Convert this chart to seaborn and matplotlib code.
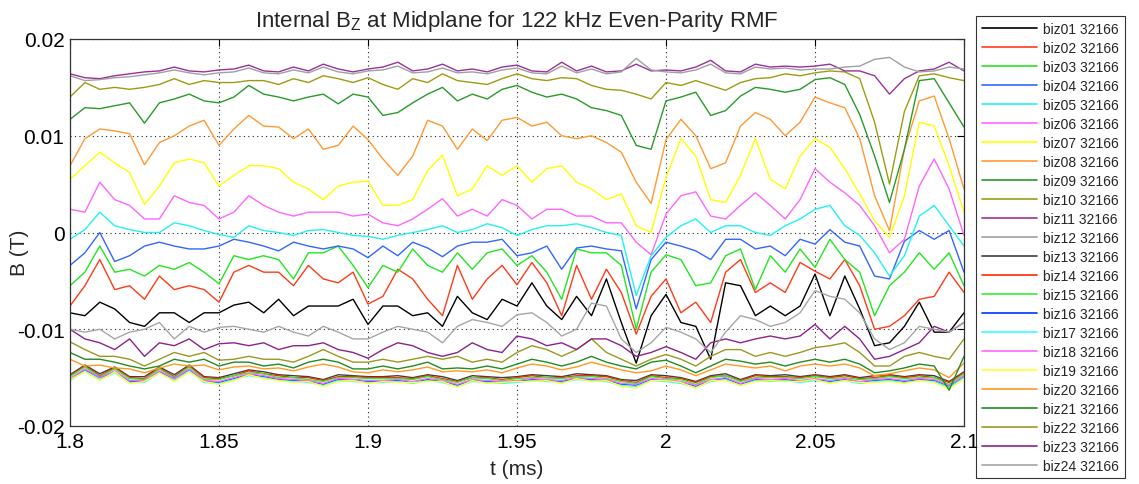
import numpy as np
import pandas as pd
import matplotlib
matplotlib.use("Agg")
import matplotlib.pyplot as plt
from matplotlib.lines import Line2D
import seaborn as sns

# Sample times (ms), one sample every 5 us
t_ms = np.linspace(1.8, 2.1, 61)

# Internal Bz probe signals, shot 32166, in mT
biz01 = [-8.3,-8.6,-7.2,-7.9,-9.3,-9.7,-8.3,-8.3,-9.3,-8.3,-8.3,
         -7.5,-7.2,-8.3,-6.9,-8.6,-7.6,-7.6,-7.6,-6.9,-9.5,
         -7.6,-7.6,-8.6,-8.3,-9.7,-6.6,-8.3,-9.0,-6.9,-7.6,
         -5.2,-7.6,-9.0,-6.6,-8.6,-4.8,-9.3,-13.5,-8.6,-6.4,
         -9.3,-9.7,-13.1,-5.2,-5.5,-8.6,-7.6,-8.6,-7.6,-4.3,
         -8.6,-4.5,-7.9,-11.7,-11.4,-9.7,-7.2,-10.3,-10.3,-8.3]
biz02 = [-7.6,-5.5,-2.8,-5.9,-5.5,-6.9,-4.5,-5.9,-5.5,-5.9,-7.2,
         -4.1,-3.4,-4.1,-4.1,-5.5,-3.4,-4.8,-5.2,-4.1,-7.4,
         -6.6,-3.8,-4.8,-6.9,-8.6,-3.4,-6.9,-4.8,-3.4,-5.4,
         -3.1,-5.2,-8.6,-3.4,-6.9,-3.8,-6.2,-10.5,-6.6,-4.8,
         -8.3,-7.2,-9.3,-4.1,-2.8,-6.2,-5.2,-6.2,-3.1,-4.0,
         -4.8,-2.8,-5.5,-10.0,-9.7,-8.6,-6.9,-6.6,-4.1,-6.2]
biz03 = [-5.5,-4.1,-1.4,-4.1,-3.8,-4.5,-3.4,-3.8,-3.1,-4.1,-5.3,
         -2.4,-2.8,-2.4,-2.8,-4.8,-2.1,-2.1,-1.4,-3.4,-5.7,
         -3.4,-4.1,-1.7,-3.4,-4.1,-2.1,-3.8,-2.1,-1.7,-3.4,
         -2.4,-4.1,-6.9,-1.7,-2.1,-2.1,-3.4,-10.0,-4.1,-2.3,
         -2.8,-5.5,-5.2,-2.4,-1.7,-5.9,-2.4,-4.1,-1.7,-3.6,
         -0.7,-2.8,-4.1,-8.6,-5.5,-4.1,-2.1,-3.8,-2.1,-5.5]
biz04 = [-3.4,-2.1,0.0,-3.0,-2.4,-1.4,-1.0,-1.4,-1.7,-1.7,-1.4,
         -0.7,-1.0,-1.4,-1.9,-1.0,-1.4,-1.7,-1.4,-1.7,-2.6,
         -1.4,-2.4,-1.0,-1.6,-2.5,-1.4,-1.0,-1.0,-0.7,-2.4,
         -2.1,-1.4,-3.8,-1.6,-1.4,-1.7,-1.9,-7.9,-2.8,-1.0,
         -1.4,-1.9,-2.8,-0.7,-0.7,-1.7,-1.4,-2.4,-0.7,-1.2,
         0.3,-1.0,-1.4,-4.5,-4.8,-0.9,0.2,-0.7,0.2,-4.1]
biz05 = [-0.7,0.3,2.1,0.7,0.3,0.0,0.0,1.0,0.7,0.2,-0.2,
         -0.5,0.7,0.2,0.0,-0.3,0.2,0.3,0.0,-0.3,-0.4,
         -0.7,-0.3,0.0,0.3,0.7,0.0,0.3,0.9,0.5,-0.3,
         0.3,0.7,0.7,0.9,0.5,0.0,-0.3,-6.5,-2.4,-0.5,
         0.7,1.4,0.0,0.7,0.7,0.0,-0.3,0.7,1.4,2.4,
         2.8,0.7,-0.3,-2.1,-4.5,-2.4,1.7,2.8,0.7,-1.4]
biz06 = [2.4,2.1,5.2,3.4,2.8,1.4,1.4,3.8,3.1,2.8,1.4,
         2.1,3.8,2.8,2.1,1.7,2.1,2.1,2.1,1.7,1.9,
         1.0,0.7,1.4,2.4,3.5,1.7,2.4,1.7,3.4,2.8,
         1.4,2.4,2.4,1.7,1.7,1.0,1.0,-1.0,-2.3,1.9,
         3.8,4.2,1.7,1.4,2.8,4.1,2.8,1.4,3.4,6.6,
         5.2,4.1,2.8,0.7,-2.1,-0.7,4.8,7.6,4.5,-0.3]
biz07 = [5.5,6.9,8.3,7.2,6.2,2.9,4.8,7.2,7.6,7.2,4.8,
         5.9,6.9,6.9,6.6,5.2,4.5,3.4,4.8,5.2,5.3,
         2.8,2.8,3.4,6.4,8.0,3.8,4.5,6.9,5.9,6.9,
         5.2,6.6,6.9,5.2,4.5,3.4,4.0,0.7,0.0,5.7,
         9.7,7.9,3.4,3.1,5.9,9.7,5.5,4.5,7.9,9.7,
         8.8,6.6,4.0,1.2,-0.5,3.8,11.4,11.0,6.9,2.1]
biz08 = [6.9,9.7,10.7,10.5,10.2,7.0,9.3,10.0,11.0,11.6,9.0,
         10.7,12.1,11.0,10.9,9.7,10.7,8.6,9.0,11.0,9.6,
         7.6,5.9,7.9,11.6,11.0,8.6,10.7,9.5,11.6,11.9,
         11.0,11.4,10.0,9.7,10.0,9.3,8.3,5.2,3.0,9.6,
         11.7,10.0,6.6,7.2,11.0,12.4,11.7,10.0,11.4,14.0,
         13.4,12.9,9.7,3.8,0.2,8.6,13.6,14.1,9.7,4.5]
biz09 = [11.7,12.9,12.8,13.1,13.4,11.3,13.4,13.8,14.3,13.6,13.4,
         14.0,15.2,14.3,14.0,13.6,14.0,14.3,13.3,14.3,14.0,
         12.1,12.4,13.4,14.3,15.0,13.6,14.3,13.8,14.8,15.2,
         14.5,14.0,14.3,13.8,12.9,12.6,12.1,9.0,8.6,13.6,
         14.0,14.5,12.1,12.6,14.1,15.0,14.8,14.5,14.8,15.8,
         16.0,15.3,12.2,7.9,3.1,8.6,15.7,15.9,13.4,10.9]
biz10 = [14.0,15.5,14.8,15.0,14.8,15.0,15.3,15.9,15.3,15.7,15.5,
         15.5,15.7,15.7,15.3,15.9,15.5,16.2,15.9,15.5,16.0,
         15.3,14.8,15.9,15.5,16.4,15.7,15.5,15.3,15.9,16.4,
         15.9,15.7,16.0,15.9,15.2,14.8,14.7,14.3,13.8,15.5,
         15.2,15.7,15.2,14.7,15.5,15.9,16.0,16.4,16.2,16.5,
         16.7,16.6,15.9,11.4,5.0,12.5,16.2,16.4,16.0,15.7]
biz11 = [16.4,16.0,15.9,16.2,16.4,16.6,16.7,17.1,16.7,16.6,16.8,
         16.9,17.3,16.7,16.6,17.1,16.7,17.4,16.9,16.6,16.9,
         17.1,17.6,16.7,16.9,17.4,16.7,16.9,16.6,17.1,17.3,
         16.7,16.6,17.6,16.7,17.2,16.6,16.7,17.4,16.7,16.8,
         16.7,17.1,17.8,16.7,16.6,17.4,17.1,17.2,17.1,17.2,
         17.4,16.7,16.7,16.2,14.3,15.9,16.7,16.9,17.6,16.7]
biz12 = [16.2,15.7,15.8,16.0,16.1,16.3,16.5,16.8,16.5,16.3,16.5,
         16.6,17.0,16.5,16.4,16.8,16.5,17.1,16.6,16.4,16.7,
         16.8,17.2,16.5,16.6,17.0,16.5,16.6,16.4,16.8,17.0,
         16.5,16.4,17.2,16.5,16.9,16.4,16.6,18.0,16.8,16.6,
         16.5,16.8,17.4,16.5,16.4,17.1,16.9,17.0,16.8,16.9,
         16.9,17.1,17.2,17.9,18.1,17.1,16.6,16.7,17.1,16.9]
biz13 = [-14.7,-13.7,-14.6,-13.9,-14.9,-14.9,-13.9,-14.7,-13.7,-14.9,-15.0,
         -14.6,-14.2,-14.4,-14.7,-14.8,-14.9,-15.2,-14.7,-14.8,-14.9,
         -14.9,-14.8,-15.0,-14.7,-14.9,-15.3,-14.8,-14.9,-15.0,-14.9,
         -14.7,-14.8,-14.9,-14.6,-14.7,-14.8,-15.2,-15.3,-14.7,-14.8,
         -15.0,-15.4,-14.8,-14.6,-15.2,-14.7,-14.8,-14.7,-14.9,-14.7,
         -14.9,-14.7,-15.0,-14.8,-14.7,-14.9,-14.7,-14.8,-15.4,-14.4]
biz14 = [-14.8,-13.8,-14.8,-14.0,-15.0,-15.1,-14.0,-14.9,-13.8,-15.0,-15.1,
         -14.8,-14.3,-14.6,-14.8,-15.0,-15.0,-15.3,-14.9,-14.9,-15.0,
         -15.0,-15.0,-15.1,-14.8,-15.1,-15.4,-15.0,-15.0,-15.2,-15.0,
         -14.8,-15.0,-15.0,-14.8,-14.8,-14.9,-15.3,-15.5,-14.8,-15.0,
         -15.1,-15.5,-14.9,-14.8,-15.3,-14.8,-14.9,-14.9,-15.0,-14.8,
         -15.0,-14.8,-15.1,-15.0,-14.8,-15.0,-14.8,-15.0,-15.5,-14.5]
biz15 = [-14.9,-13.9,-14.9,-14.1,-15.1,-15.2,-14.1,-15.0,-13.9,-15.2,-15.2,
         -14.8,-14.5,-14.6,-15.0,-15.0,-15.2,-15.4,-15.0,-15.0,-15.1,
         -15.1,-15.1,-15.2,-14.9,-15.2,-15.5,-15.0,-15.1,-15.3,-15.1,
         -15.0,-15.0,-15.1,-14.9,-14.9,-15.1,-15.4,-15.6,-14.9,-15.1,
         -15.2,-15.7,-15.0,-14.8,-15.4,-15.0,-15.0,-15.0,-15.1,-14.9,
         -15.1,-15.0,-15.2,-15.1,-14.9,-15.1,-15.0,-15.0,-15.7,-14.6]
biz16 = [-15.2,-14.2,-15.0,-14.4,-15.4,-15.4,-14.4,-15.1,-14.2,-15.4,-15.5,
         -15.1,-14.7,-14.9,-15.2,-15.3,-15.4,-15.7,-15.2,-15.2,-15.4,
         -15.4,-15.3,-15.5,-15.2,-15.4,-15.8,-15.3,-15.4,-15.5,-15.4,
         -15.2,-15.3,-15.4,-15.1,-15.2,-15.3,-15.7,-15.8,-15.2,-15.3,
         -15.5,-15.9,-15.3,-15.1,-15.7,-15.2,-15.3,-15.2,-15.4,-15.2,
         -15.4,-15.2,-15.5,-15.3,-15.2,-15.4,-15.2,-15.3,-15.9,-14.9]
biz17 = [-15.3,-14.3,-15.2,-14.5,-15.5,-15.5,-14.5,-15.3,-14.3,-15.5,-15.6,
         -15.2,-14.8,-15.0,-15.3,-15.4,-15.5,-15.8,-15.3,-15.4,-15.5,
         -15.5,-15.4,-15.6,-15.3,-15.5,-15.9,-15.4,-15.5,-15.6,-15.5,
         -15.3,-15.4,-15.5,-15.2,-15.3,-15.4,-15.8,-15.9,-15.3,-15.4,
         -15.6,-16.0,-15.4,-15.2,-15.8,-15.3,-15.4,-15.3,-15.5,-15.3,
         -15.5,-15.3,-15.6,-15.4,-15.3,-15.5,-15.3,-15.4,-16.0,-15.0]
biz18 = [-15.1,-14.1,-15.0,-14.3,-15.3,-15.3,-14.3,-15.1,-14.1,-15.3,-15.4,
         -15.0,-14.6,-14.8,-15.1,-15.2,-15.3,-15.6,-15.1,-15.2,-15.3,
         -15.3,-15.2,-15.4,-15.1,-15.3,-15.7,-15.2,-15.3,-15.4,-15.3,
         -15.1,-15.2,-15.3,-15.0,-15.1,-15.2,-15.6,-15.7,-15.1,-15.2,
         -15.4,-15.8,-15.2,-15.0,-15.6,-15.1,-15.2,-15.1,-15.3,-15.1,
         -15.3,-15.1,-15.4,-15.2,-15.1,-15.3,-15.1,-15.2,-15.8,-14.8]
biz19 = [-15.2,-14.4,-15.3,-14.4,-15.6,-15.4,-14.5,-15.4,-14.4,-15.4,-15.7,
         -15.3,-14.7,-15.1,-15.3,-15.5,-15.4,-15.9,-15.4,-15.3,-15.6,
         -15.4,-15.5,-15.5,-15.4,-15.4,-16.0,-15.3,-15.6,-15.5,-15.4,
         -15.4,-15.3,-15.6,-15.1,-15.4,-15.3,-15.9,-16.1,-15.3,-15.3,
         -15.5,-16.1,-15.3,-15.3,-15.8,-15.4,-15.3,-15.4,-15.4,-15.2,
         -15.6,-15.3,-15.5,-15.5,-15.4,-15.6,-15.3,-15.5,-16.2,-15.1]
biz20 = [-13.1,-13.8,-13.7,-14.0,-14.1,-14.5,-14.0,-13.6,-13.8,-13.7,-14.2,
         -13.9,-13.8,-14.1,-14.0,-14.3,-13.9,-13.6,-13.9,-14.4,-14.5,
         -14.2,-14.4,-14.2,-13.9,-14.4,-14.3,-14.4,-14.2,-14.5,-14.0,
         -13.6,-13.8,-14.2,-13.9,-13.4,-13.8,-14.2,-14.5,-14.3,-13.8,
         -14.2,-14.8,-14.2,-13.6,-13.8,-14.0,-13.8,-14.3,-13.8,-13.6,
         -13.8,-13.6,-14.0,-14.8,-14.6,-14.3,-14.0,-14.2,-15.0,-13.5]
biz21 = [-12.4,-13.1,-13.1,-13.4,-13.8,-14.1,-13.8,-13.1,-13.4,-13.1,-13.8,
         -13.4,-13.4,-13.8,-13.6,-14.0,-13.4,-13.1,-13.4,-14.1,-14.1,
         -13.8,-14.1,-13.8,-13.4,-14.1,-14.0,-14.1,-13.8,-14.1,-13.6,
         -13.1,-13.4,-13.8,-13.4,-12.8,-13.4,-13.8,-14.1,-13.4,-13.2,
         -13.8,-14.5,-13.8,-13.1,-13.3,-13.6,-13.4,-13.8,-13.4,-13.1,
         -13.4,-13.1,-13.6,-14.5,-14.3,-14.0,-13.6,-13.8,-16.3,-12.8]
biz22 = [-11.3,-12.1,-12.8,-12.8,-13.1,-13.8,-13.1,-12.4,-12.8,-12.4,-13.2,
         -13.1,-12.8,-13.1,-13.1,-13.4,-12.8,-12.1,-12.8,-13.4,-13.4,
         -13.1,-13.4,-13.1,-12.8,-13.1,-12.8,-13.4,-13.1,-13.4,-12.4,
         -11.7,-12.1,-12.8,-12.1,-11.0,-12.4,-13.1,-13.8,-13.1,-12.6,
         -13.1,-13.8,-12.8,-12.1,-12.1,-12.8,-12.4,-12.8,-12.4,-11.9,
         -11.7,-11.4,-12.4,-13.8,-13.8,-12.8,-12.4,-12.8,-13.1,-11.0]
biz23 = [-10.0,-11.0,-11.4,-12.1,-11.0,-12.8,-11.4,-11.7,-11.0,-12.1,-11.5,
         -11.4,-11.7,-11.4,-12.1,-11.7,-11.7,-11.4,-12.1,-12.4,-13.0,
         -12.1,-11.4,-11.7,-12.4,-12.8,-12.4,-11.4,-12.1,-12.4,-10.7,
         -11.0,-11.7,-11.4,-12.1,-11.0,-11.0,-11.7,-12.8,-12.4,-11.8,
         -12.4,-13.1,-11.4,-11.0,-11.4,-11.0,-10.7,-11.0,-10.7,-9.5,
         -11.0,-9.7,-11.0,-13.1,-12.8,-12.1,-11.4,-9.7,-10.3,-9.3]
biz24 = [-10.0,-10.3,-10.0,-11.0,-10.3,-10.0,-9.3,-11.0,-9.7,-10.3,-9.8,
         -9.7,-10.0,-10.3,-9.7,-10.3,-10.7,-9.7,-10.3,-11.0,-11.0,
         -10.3,-9.7,-10.0,-10.3,-11.4,-9.7,-9.0,-9.3,-9.7,-8.5,
         -8.3,-9.3,-10.7,-10.0,-7.3,-7.6,-11.0,-12.4,-11.4,-9.8,
         -10.3,-11.0,-12.4,-10.3,-8.6,-9.0,-9.7,-9.3,-8.3,-6.0,
         -6.6,-6.9,-8.3,-11.0,-12.1,-11.4,-9.7,-10.0,-10.3,-9.3]

signals = [biz01, biz02, biz03, biz04, biz05, biz06, biz07, biz08,
           biz09, biz10, biz11, biz12, biz13, biz14, biz15, biz16,
           biz17, biz18, biz19, biz20, biz21, biz22, biz23, biz24]
probe_names = [f"biz{i:02d} 32166" for i in range(1, 25)]
line_colors = ["#000000", "#FF3B1A", "#22E622", "#3366FF", "#22F2F2", "#FF66FF",
               "#FFFF00", "#FF9933", "#2A9A2A", "#9C9C12", "#993399", "#A0A0A0",
               "#404040", "#FF2A00", "#33F033", "#0033FF", "#33FFFF", "#FF66FF",
               "#FFFF33", "#FF9922", "#228B22", "#999922", "#8B238B", "#A6A6A6"]

frames = []
for name, vals in zip(probe_names, signals):
    frames.append(pd.DataFrame({"t": t_ms, "B": np.asarray(vals) * 1e-3, "probe": name}))
df = pd.concat(frames, ignore_index=True)

sns.set_theme(style="white")
plt.rcParams["font.family"] = ["Liberation Sans", "DejaVu Sans"]
plt.rcParams["mathtext.fontset"] = "custom"
plt.rcParams["mathtext.rm"] = "Liberation Sans"

W, H = 1139, 485
fig = plt.figure(figsize=(W / 100, H / 100), dpi=100)
ax = fig.add_axes([70 / W, 1 - 427 / H, 894 / W, 387 / H])

sns.lineplot(data=df, x="t", y="B", hue="probe", hue_order=probe_names,
             palette=dict(zip(probe_names, line_colors)), estimator=None,
             sort=False, linewidth=1.0, legend=False, ax=ax)

ax.set_xlim(1.8, 2.1)
ax.set_ylim(-0.02, 0.02)
ax.set_xticks([1.8, 1.85, 1.9, 1.95, 2.0, 2.05, 2.1])
ax.set_xticklabels(["1.8", "1.85", "1.9", "1.95", "2", "2.05", "2.1"])
ax.set_yticks([-0.02, -0.01, 0, 0.01, 0.02])
ax.set_yticklabels(["-0.02", "-0.01", "0", "0.01", "0.02"])
ax.grid(True, linestyle=(0, (1, 3)), color="#222222", linewidth=0.8)
ax.tick_params(direction="in", top=True, right=True, length=5, width=0.8,
               labelsize=15, colors="black", pad=4)
for s in ax.spines.values():
    s.set_color("#333333")
    s.set_linewidth(0.9)

ax.set_title(r"Internal B$_{\mathregular{Z}}$ at Midplane for 122 kHz Even-Parity RMF",
             fontsize=16, pad=9)
ax.set_xlabel("t (ms)", fontsize=15)
ax.set_ylabel("B (T)", fontsize=15)
ax.xaxis.set_label_coords(0.5, -0.085)
ax.yaxis.set_label_coords(-0.046, 0.45)

handles = [Line2D([], [], color=c, linewidth=1.2) for c in line_colors]
leg = fig.legend(handles, probe_names, loc="upper left",
                 bbox_to_anchor=(976 / W, 1 - 17 / H), borderaxespad=0,
                 frameon=True, fancybox=False, fontsize=10, handlelength=4.0,
                 handletextpad=0.45, labelspacing=0.36, borderpad=0.4)
leg.get_frame().set_edgecolor("black")
leg.get_frame().set_linewidth(0.8)

fig.savefig("out.png", dpi=100)
